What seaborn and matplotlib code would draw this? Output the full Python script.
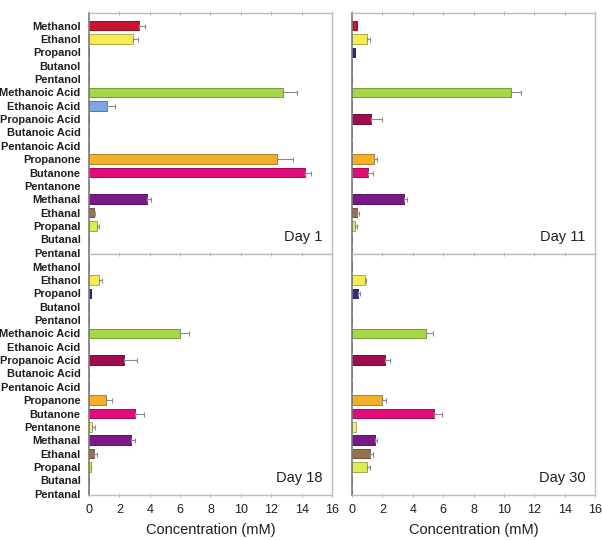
import matplotlib
matplotlib.use("Agg")
import matplotlib.pyplot as plt
import matplotlib.colors as mcolors
import numpy as np
import pandas as pd
import seaborn as sns

compounds = ["Methanol", "Ethanol", "Propanol", "Butanol", "Pentanol",
             "Methanoic Acid", "Ethanoic Acid", "Propanoic Acid", "Butanoic Acid", "Pentanoic Acid",
             "Propanone", "Butanone", "Pentanone",
             "Methanal", "Ethanal", "Propanal", "Butanal", "Pentanal"]

day1 = [3.3, 2.9, 0, 0, 0, 12.8, 1.2, 0, 0, 0, 12.4, 14.2, 0, 3.8, 0.3, 0.5, 0, 0]
err1 = [0.4, 0.3, 0, 0, 0, 0.9, 0.5, 0, 0, 0, 1.0, 0.4, 0, 0.3, 0.1, 0.15, 0, 0]
day11 = [0.3, 1.0, 0.2, 0, 0, 10.5, 0, 1.25, 0, 0, 1.45, 1.05, 0, 3.45, 0.3, 0.2, 0, 0]
err11 = [0, 0.2, 0, 0, 0, 0.6, 0, 0.75, 0, 0, 0.2, 0.3, 0, 0.2, 0.15, 0.1, 0, 0]
day18 = [0, 0.65, 0.15, 0, 0, 6.0, 0, 2.3, 0, 0, 1.15, 3.05, 0.2, 2.75, 0.35, 0.1, 0, 0]
err18 = [0, 0.2, 0, 0, 0, 0.6, 0, 0.85, 0, 0, 0.35, 0.6, 0.2, 0.3, 0.2, 0.05, 0, 0]
day30 = [0, 0.85, 0.4, 0, 0, 4.9, 0, 2.15, 0, 0, 2.0, 5.4, 0.25, 1.5, 1.2, 1.0, 0, 0]
err30 = [0, 0.1, 0.15, 0, 0, 0.45, 0, 0.35, 0, 0, 0.25, 0.5, 0, 0.15, 0.15, 0.2, 0, 0]

panel_titles = ["Day 1", "Day 11", "Day 18", "Day 30"]
xticks = [0, 2, 4, 6, 8, 10, 12, 14, 16]

colors = {
    "Methanol": "#c8142c", "Ethanol": "#f4ec52", "Propanol": "#3a2490",
    "Butanol": "#999999", "Pentanol": "#999999",
    "Methanoic Acid": "#a4d846", "Ethanoic Acid": "#7ea6e0", "Propanoic Acid": "#a00c50",
    "Butanoic Acid": "#999999", "Pentanoic Acid": "#999999",
    "Propanone": "#f2b028", "Butanone": "#e20c7c", "Pentanone": "#eef078",
    "Methanal": "#7a1888", "Ethanal": "#9a7048", "Propanal": "#dcec56",
    "Butanal": "#999999", "Pentanal": "#999999",
}

sns.set_theme(style="white")
plt.rcParams["font.family"] = ["Liberation Sans", "DejaVu Sans"]

fig = plt.figure(figsize=(6.02, 5.40), dpi=100)
positions = [
    [89 / 602, 1 - 254 / 540, 243 / 602, 241 / 540],
    [352 / 602, 1 - 254 / 540, 243 / 602, 241 / 540],
    [89 / 602, 1 - 495 / 540, 243 / 602, 241 / 540],
    [352 / 602, 1 - 495 / 540, 243 / 602, 241 / 540],
]
values = [day1, day11, day18, day30]
errors = [err1, err11, err18, err30]

for i, (pos, vals, errs, title) in enumerate(zip(positions, values, errors, panel_titles)):
    ax = fig.add_axes(pos)
    df = pd.DataFrame({"compound": compounds, "value": vals})
    sns.barplot(data=df, x="value", y="compound", hue="compound", palette=colors,
                order=compounds, hue_order=compounds, orient="h", width=0.72,
                saturation=1, legend=False, ax=ax, errorbar=None, linewidth=0.7)
    for p in ax.patches:
        fc = np.array(mcolors.to_rgb(p.get_facecolor()))
        p.set_edgecolor(tuple(fc * 0.72))
    ypos = np.arange(len(compounds))
    v = np.array(vals)
    e = np.array(errs)
    mask = e > 0
    ax.errorbar(v[mask], ypos[mask], xerr=[np.zeros(mask.sum()), e[mask]], fmt="none",
                ecolor="#8a8a8a", elinewidth=0.8, capsize=1.8, capthick=0.8)
    ax.set_xlim(0, 16)
    ax.set_ylim(17.1, -0.95)
    ax.set_xlabel("")
    ax.set_ylabel("")
    ax.set_xticks(xticks)
    for s in ["top", "right", "bottom"]:
        ax.spines[s].set_color("#bdbdbd")
        ax.spines[s].set_linewidth(1.0)
    ax.spines["left"].set_color("#7c7c7c")
    ax.spines["left"].set_linewidth(1.2)
    ax.tick_params(axis="x", which="both", top=True, bottom=(i >= 2), direction="inout",
                   length=3, width=0.6, color="#aaaaaa", labelbottom=(i >= 2),
                   labelsize=9, pad=5, labelcolor="#1e1e1e")
    if i % 2 == 0:
        ax.tick_params(axis="y", left=False, length=0, pad=6)
        for lbl in ax.get_yticklabels():
            lbl.set_fontweight("bold")
            lbl.set_fontsize(7.9)
            lbl.set_color("#1e1e1e")
    else:
        ax.set_yticks(ypos)
        ax.set_yticklabels([])
        ax.tick_params(axis="y", left=False, length=0)
    ax.text(0.96, 0.04, title, transform=ax.transAxes, ha="right", va="bottom",
            fontsize=10.5, color="#1e1e1e")
    if i >= 2:
        ax.set_xlabel("Concentration (mM)", fontsize=10.5, color="#1e1e1e", labelpad=5)

fig.savefig("out.png", dpi=100)
